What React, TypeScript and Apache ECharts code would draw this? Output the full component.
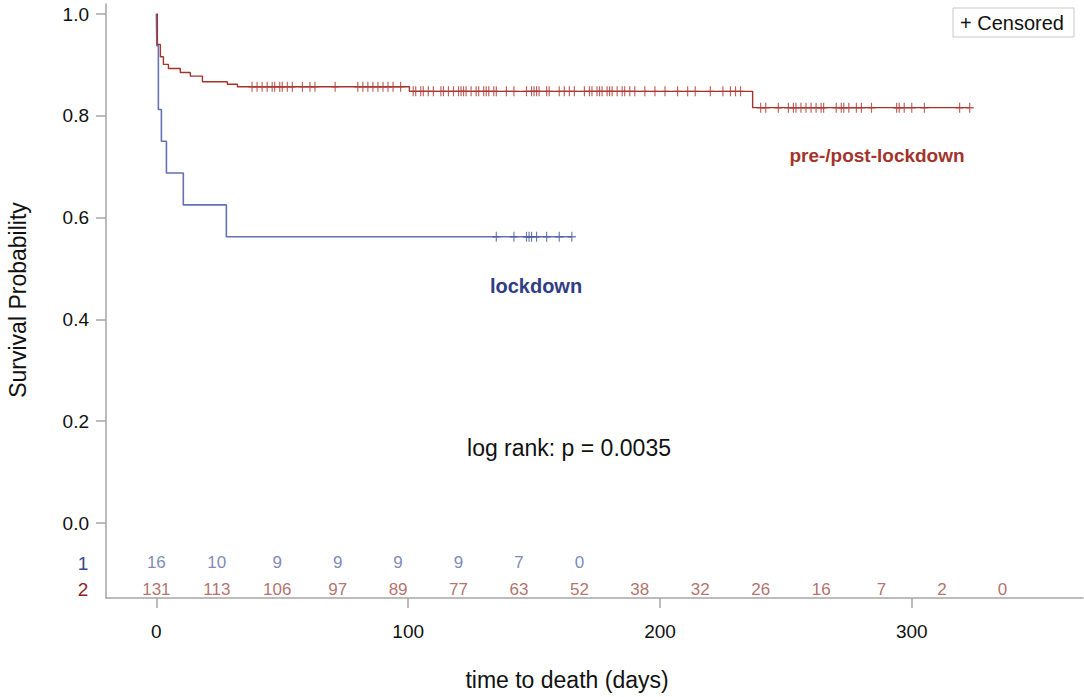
import React, { useEffect, useRef } from "react";
import * as echarts from "echarts";

// ---- axes ----
const xTicks = [0, 100, 200, 300];
const yTicks = [0, 0.2, 0.4, 0.6, 0.8, 1.0];

// ---- number at risk table ----
const atRiskTimes = [0, 24, 48, 72, 96, 120, 144, 168, 192, 216, 240, 264, 288, 312, 336];
const lockdownAtRisk = [16, 10, 9, 9, 9, 9, 7, 0];
const prePostAtRisk = [131, 113, 106, 97, 89, 77, 63, 52, 38, 32, 26, 16, 7, 2, 0];

// ---- group 1: lockdown ----
const lockdownEventTimes = [0.2, 0.8, 2, 4, 10.7, 27.8];
const lockdownSurvival = [0.9375, 0.8125, 0.75, 0.6875, 0.625, 0.5625];
const lockdownCensorTimes = [135, 142, 147, 148, 149, 151, 155, 160, 165];
const lockdownEnd = 165;

// ---- group 2: pre-/post-lockdown ----
const prePostEventTimes = [0.4, 1.6, 2.8, 4.8, 9.5, 13.5, 18.3, 28.2, 32.2, 100.5, 236.8];
const prePostSurvival = [0.94, 0.916, 0.901, 0.893, 0.885, 0.878, 0.867, 0.862, 0.857, 0.848, 0.816];
const prePostCensorTimes = [
  38, 40, 42, 44, 46, 47, 49, 50, 52, 54, 58, 61, 63, 71, 80, 82, 84, 86, 88, 90, 92, 94, 97,
  102, 103, 105, 106, 108, 110, 113, 114, 116, 118, 120, 121, 122, 123, 125, 127, 128, 130, 131,
  132, 134, 135, 139, 142, 147, 149, 150, 151, 152, 155, 156, 160, 162, 164, 166, 170, 172, 173,
  175, 176, 177, 179, 180, 181, 183, 185, 186, 188, 190, 194, 198, 202, 207, 211, 214, 220, 225,
  228, 230, 232, 240, 242, 247, 251, 253, 254, 256, 258, 260, 262, 264, 265, 270, 272, 273, 275,
  278, 280, 284, 294, 295, 297, 300, 305, 319, 323,
];
const prePostEnd = 323;

const BLUE_LINE = "#6372b4";
const BLUE_MARK = "#4c5a9c";
const RED_LINE = "#a3332b";
const RED_MARK = "#ad3a33";
const FONT = "'Liberation Sans', Arial, Helvetica, sans-serif";

function stepPoints(times: number[], surv: number[], end: number) {
  const pts: number[][] = [[0, 1]];
  let s = 1;
  times.forEach((t, i) => {
    pts.push([t, s]);
    s = surv[i];
    pts.push([t, s]);
  });
  pts.push([end, s]);
  return pts;
}

function survAt(times: number[], surv: number[], t: number) {
  let s = 1;
  times.forEach((et, i) => {
    if (et <= t) s = surv[i];
  });
  return s;
}

const PLUS = "path://M4,0L4,10M0,5L8,5";

export default function App() {
  const ref = useRef<HTMLDivElement>(null);

  useEffect(() => {
    if (!ref.current) return;
    const chart = echarts.init(ref.current, null, { renderer: "svg" });

    const row1Y = -0.078;
    const row2Y = -0.1297;

    const option: any = {
      animation: false,
      backgroundColor: "#ffffff",
      textStyle: { fontFamily: FONT },
      grid: { left: 106, top: 4, width: 977, height: 594, containLabel: false },
      xAxis: {
        type: "value",
        min: -20,
        max: 368,
        axisLine: { show: true, onZero: false, lineStyle: { color: "#a6a6a6", width: 1.5 } },
        axisTick: {
          show: true,
          inside: false,
          customValues: xTicks,
          length: 10,
          lineStyle: { color: "#a6a6a6", width: 1.5 },
        },
        axisLabel: {
          show: true,
          customValues: xTicks,
          margin: 24,
          fontSize: 19,
          color: "#111111",
          fontFamily: FONT,
        },
        splitLine: { show: false },
      },
      yAxis: {
        type: "value",
        min: -75 / 509,
        max: 1 + 10 / 509,
        axisLine: { show: true, onZero: false, lineStyle: { color: "#a6a6a6", width: 1.5 } },
        axisTick: {
          show: true,
          inside: false,
          customValues: yTicks,
          length: 10,
          lineStyle: { color: "#a6a6a6", width: 1.5 },
        },
        axisLabel: {
          show: true,
          customValues: yTicks,
          margin: 17,
          fontSize: 19,
          color: "#111111",
          fontFamily: FONT,
          formatter: (v: number) => v.toFixed(1),
        },
        splitLine: { show: false },
      },
      series: [
        {
          name: "lockdown",
          type: "line",
          data: stepPoints(lockdownEventTimes, lockdownSurvival, lockdownEnd),
          showSymbol: false,
          lineStyle: { color: BLUE_LINE, width: 1.6 },
          z: 2,
        },
        {
          name: "pre-/post-lockdown",
          type: "line",
          data: stepPoints(prePostEventTimes, prePostSurvival, prePostEnd),
          showSymbol: false,
          lineStyle: { color: RED_LINE, width: 1.4 },
          z: 3,
        },
        {
          name: "lockdown censored",
          type: "scatter",
          symbol: PLUS,
          symbolSize: [8, 10],
          data: lockdownCensorTimes.map((t) => [t, survAt(lockdownEventTimes, lockdownSurvival, t)]),
          itemStyle: { color: "rgba(0,0,0,0)", borderColor: BLUE_MARK, borderWidth: 1.3 },
          z: 4,
        },
        {
          name: "pre-/post-lockdown censored",
          type: "scatter",
          symbol: PLUS,
          symbolSize: [8, 10],
          data: prePostCensorTimes.map((t) => [t, survAt(prePostEventTimes, prePostSurvival, t)]),
          itemStyle: { color: "rgba(0,0,0,0)", borderColor: RED_MARK, borderWidth: 1.3 },
          z: 5,
        },
        {
          name: "at risk 1",
          type: "scatter",
          symbolSize: 1,
          itemStyle: { color: "rgba(0,0,0,0)" },
          data: lockdownAtRisk.map((n, i) => [atRiskTimes[i], row1Y, n]),
          label: {
            show: true,
            position: "inside",
            formatter: (p: any) => String(p.value[2]),
            fontSize: 17,
            color: "#5d6aa6",
            fontFamily: FONT,
          },
          z: 6,
        },
        {
          name: "at risk 2",
          type: "scatter",
          symbolSize: 1,
          itemStyle: { color: "rgba(0,0,0,0)" },
          data: prePostAtRisk.map((n, i) => [atRiskTimes[i], row2Y, n]),
          label: {
            show: true,
            position: "inside",
            formatter: (p: any) => String(p.value[2]),
            fontSize: 17,
            color: "#a04c46",
            fontFamily: FONT,
          },
          z: 6,
        },
      ],
      graphic: [
        {
          type: "text",
          x: 18,
          y: 300,
          rotation: Math.PI / 2,
          style: {
            text: "Survival Probability",
            font: `23px ${FONT}`,
            fill: "#111111",
            textAlign: "center",
            verticalAlign: "middle",
          },
        },
        {
          type: "text",
          x: 567,
          y: 680,
          style: {
            text: "time to death (days)",
            font: `23px ${FONT}`,
            fill: "#111111",
            textAlign: "center",
            verticalAlign: "middle",
          },
        },
        {
          type: "text",
          x: 569,
          y: 448,
          style: {
            text: "log rank: p = 0.0035",
            font: `23px ${FONT}`,
            fill: "#111111",
            textAlign: "center",
            verticalAlign: "middle",
          },
        },
        {
          type: "text",
          x: 536,
          y: 286,
          style: {
            text: "lockdown",
            font: `bold 20px ${FONT}`,
            fill: "#303c84",
            textAlign: "center",
            verticalAlign: "middle",
          },
        },
        {
          type: "text",
          x: 877,
          y: 155,
          style: {
            text: "pre-/post-lockdown",
            font: `bold 19px ${FONT}`,
            fill: "#a3342c",
            textAlign: "center",
            verticalAlign: "middle",
          },
        },
        {
          type: "text",
          x: 83,
          y: 563,
          style: {
            text: "1",
            font: `19px ${FONT}`,
            fill: "#3b4790",
            textAlign: "center",
            verticalAlign: "middle",
          },
        },
        {
          type: "text",
          x: 83,
          y: 589,
          style: {
            text: "2",
            font: `19px ${FONT}`,
            fill: "#8e1f1c",
            textAlign: "center",
            verticalAlign: "middle",
          },
        },
        {
          type: "rect",
          shape: { x: 953, y: 8, width: 121, height: 29 },
          style: { fill: "#ffffff", stroke: "#c9c9c9", lineWidth: 1 },
        },
        {
          type: "text",
          x: 960,
          y: 22.5,
          style: {
            text: "+ Censored",
            font: `20px ${FONT}`,
            fill: "#111111",
            textAlign: "left",
            verticalAlign: "middle",
          },
        },
      ],
    };

    chart.setOption(option);
    return () => chart.dispose();
  }, []);

  return (
    <div
      ref={ref}
      style={{ position: "absolute", left: 0, top: 0, width: 1084, height: 697, background: "#fff" }}
    />
  );
}
